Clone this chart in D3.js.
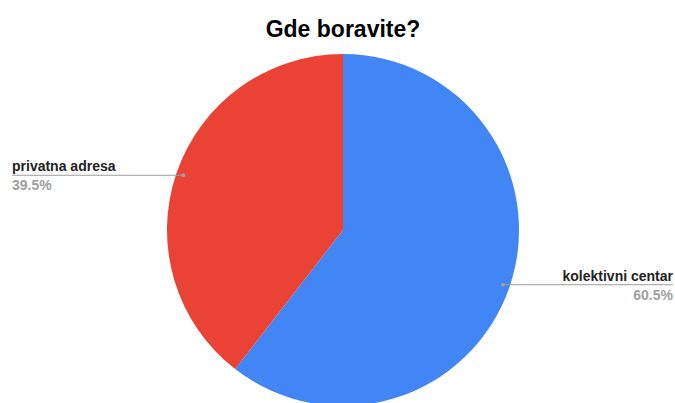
<!DOCTYPE html>
<html>
<head>
<meta charset="utf-8">
<script src="https://cdn.jsdelivr.net/npm/d3@7"></script>
<style>
  body { margin: 0; background: #fff; overflow: hidden; }
  text { font-family: Arial, "Liberation Sans", sans-serif; }
</style>
</head>
<body>
<svg id="chart" width="675" height="403"></svg>
<script>
var labels = ['kolektivni centar', 'privatna adresa'];
var values = [60.5, 39.5];
var colors = ['#4285f4', '#ea4335'];

var width = 675, height = 403;
var cx = 343, cy = 230, radius = 176;

var svg = d3.select('#chart');

svg.append('text')
   .attr('x', cx).attr('y', 37)
   .attr('text-anchor', 'middle')
   .attr('font-size', 23).attr('font-weight', 'bold')
   .attr('fill', '#000')
   .text('Gde boravite?');

var data = labels.map(function(d, i){ return {label: d, value: values[i], color: colors[i]}; });

var pie = d3.pie().sort(null).value(function(d){ return d.value; });
var arc = d3.arc().innerRadius(0).outerRadius(radius);
var dotArc = d3.arc().innerRadius(radius * 0.96).outerRadius(radius * 0.96);

var g = svg.append('g').attr('transform', 'translate(' + cx + ',' + cy + ')');
var arcs = pie(data);

g.selectAll('path').data(arcs).enter().append('path')
  .attr('d', arc)
  .attr('fill', function(d){ return d.data.color; });

// labels
arcs.forEach(function(a){
  var p = dotArc.centroid(a);
  var px = cx + p[0], py = cy + p[1];
  var right = p[0] > 0;
  var endX = right ? 673 : 12;
  var lg = svg.append('g');
  lg.append('line')
    .attr('x1', px).attr('y1', py).attr('x2', endX).attr('y2', py)
    .attr('stroke', '#9e9e9e').attr('stroke-width', 1);
  lg.append('circle').attr('cx', px).attr('cy', py).attr('r', 2).attr('fill', '#9e9e9e');
  lg.append('text')
    .attr('x', endX).attr('y', py - 4)
    .attr('text-anchor', right ? 'end' : 'start')
    .attr('font-size', 14).attr('font-weight', 'bold').attr('fill', '#222')
    .text(a.data.label);
  lg.append('text')
    .attr('x', endX).attr('y', py + 15)
    .attr('text-anchor', right ? 'end' : 'start')
    .attr('font-size', 14).attr('font-weight', 'bold').attr('fill', '#a0a0a0')
    .text(d3.format('.1f')(a.data.value) + '%');
});
</script>
</body>
</html>
